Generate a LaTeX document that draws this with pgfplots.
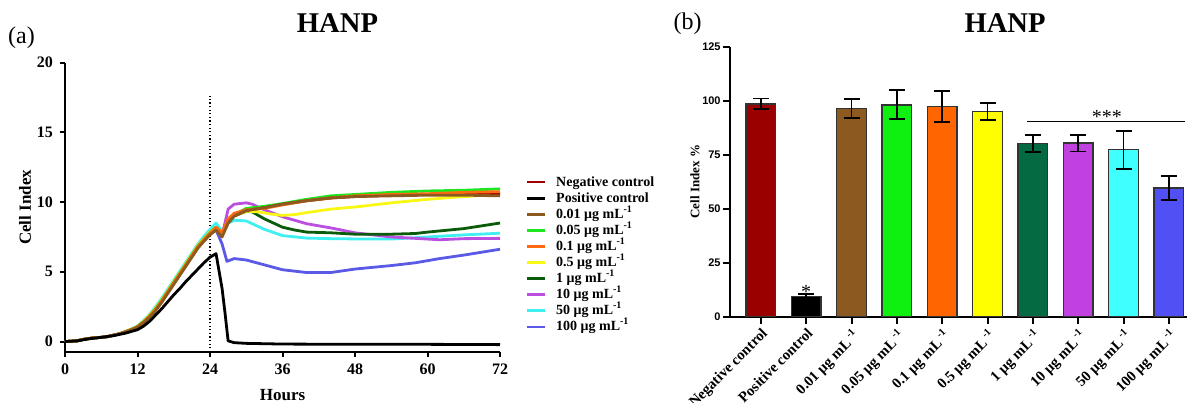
\documentclass[border=0pt]{standalone}
\usepackage{pgfplots}
\pgfplotsset{compat=1.18}
\usepackage{fontspec}
\setmainfont{Liberation Serif}
\newfontfamily\arial{Liberation Sans}

\definecolor{cneg}{HTML}{A00000}
\definecolor{cbrown}{HTML}{8C5A1E}
\definecolor{cgreen}{HTML}{1EE61E}
\definecolor{corange}{HTML}{FF6A10}
\definecolor{cyellow}{HTML}{F8F814}
\definecolor{cdgreen}{HTML}{0A5C0A}
\definecolor{cpurple}{HTML}{BA4FE0}
\definecolor{ccyan}{HTML}{40F0F0}
\definecolor{cblue}{HTML}{5A5AE6}
% bar colours
\definecolor{bneg}{HTML}{9B0000}
\definecolor{bbrown}{HTML}{8C5A20}
\definecolor{bgreen}{HTML}{10F010}
\definecolor{borange}{HTML}{FF6600}
\definecolor{byellow}{HTML}{FFFF00}
\definecolor{bdgreen}{HTML}{046A42}
\definecolor{bpurple}{HTML}{C040E0}
\definecolor{bcyan}{HTML}{40FFFF}
\definecolor{bblue}{HTML}{5050F5}
\definecolor{barline}{HTML}{333333}

\begin{document}
\begin{tikzpicture}
\useasboundingbox (0,0) rectangle (593.5pt,201pt);

\node[font=\bfseries\fontsize{14.3}{16}\selectfont, inner sep=0pt] at (168.75pt,189.5pt) {HANP};
\node[font=\bfseries\fontsize{14.3}{16}\selectfont, inner sep=0pt] at (502.5pt,189.5pt) {HANP};
\node[font=\fontsize{12}{14}\selectfont, inner sep=0pt] at (10.75pt,182.25pt) {(a)};
\node[font=\fontsize{12}{14}\selectfont, inner sep=0pt] at (343.75pt,189.25pt) {(b)};

% ---------------- panel (a)
\begin{axis}[
  at={(32.5pt,25pt)}, anchor=south west,
  scale only axis, width=217.5pt, height=144.65pt,
  xmin=0, xmax=72, ymin=-0.75, ymax=20,
  axis lines=left,
  x axis line style={-}, y axis line style={-},
  axis line style={line width=1pt},
  xtick={0,12,...,72}, ytick={0,5,...,20},
  tick align=outside, major tick length=2.5pt,
  tick style={line width=1pt, black},
  /pgf/number format/assume math mode=true,
  ticklabel style={font=\bfseries\fontsize{8}{9}\selectfont},
  xlabel={Hours}, ylabel={Cell Index},
  label style={font=\bfseries\fontsize{8.5}{9}\selectfont},
  xlabel style={at={(axis description cs:0.5,0)}, anchor=center, yshift=-21.5pt},
  ylabel style={at={(axis description cs:-0.092,0.5)}, anchor=center},
  clip=false,
  legend image code/.code={\draw[#1] (0pt,0pt) -- (9pt,0pt);},
  legend cell align=left,
  legend style={at={(axis description cs:1.0575,0.613)}, anchor=north west,
    draw=none, fill=none, inner sep=0pt,
    font=\bfseries\fontsize{7}{8}\selectfont,
    row sep=1.05pt, column sep=5pt,
    nodes={inner sep=0pt, text height=5.5pt, text depth=1.5pt}},
  every axis plot/.append style={line width=1.4pt, line join=round},
]
\addlegendimage{cneg, line width=1.4pt}\addlegendentry{Negative control}
\addlegendimage{black, line width=1.4pt}\addlegendentry{Positive control}
\addlegendimage{cbrown, line width=1.4pt}\addlegendentry{0.01 μg mL\textsuperscript{-1}}
\addlegendimage{cgreen, line width=1.4pt}\addlegendentry{0.05 μg mL\textsuperscript{-1}}
\addlegendimage{corange, line width=1.4pt}\addlegendentry{0.1 μg mL\textsuperscript{-1}}
\addlegendimage{cyellow, line width=1.4pt}\addlegendentry{0.5 μg mL\textsuperscript{-1}}
\addlegendimage{cdgreen, line width=1.4pt}\addlegendentry{1 μg mL\textsuperscript{-1}}
\addlegendimage{cpurple, line width=1.4pt}\addlegendentry{10 μg mL\textsuperscript{-1}}
\addlegendimage{ccyan, line width=1.4pt}\addlegendentry{50 μg mL\textsuperscript{-1}}
\addlegendimage{cblue, line width=1.4pt}\addlegendentry{100 μg mL\textsuperscript{-1}}

% dotted treatment line
\addplot[forget plot, black, line width=0.6pt, dash pattern=on 0.6pt off 1.2pt] coordinates {(24,-0.75) (24,17.6)};

% 100 ug
\addplot[forget plot, cblue] coordinates {(0,0) (1,0.02) (2,0.05) (3,0.15) (4,0.22) (5,0.27) (6,0.3) (7,0.35) (8,0.45) (9,0.55) (10,0.7) (11,0.85) (12,1.05) (13,1.4) (14,1.8) (15,2.3) (16,2.9) (17,3.55) (18,4.2) (19,4.85) (20,5.5) (21,6.15) (22,6.8) (23,7.3) (24,7.75) (25,8.0) (26,7.0) (26.8,5.75) (28,5.95) (30,5.85) (33,5.5) (36,5.15) (40,4.95) (44,4.95) (48,5.2) (54,5.45) (58,5.65) (62,5.95) (66,6.2) (72,6.62)};
% 50 ug
\addplot[forget plot, ccyan] coordinates {(0,0) (1,0.02) (2,0.05) (3,0.15) (4,0.22) (5,0.27) (6,0.3) (7,0.35) (8,0.45) (9,0.55) (10,0.72) (11,0.9) (12,1.12) (13,1.5) (14,1.95) (15,2.5) (16,3.1) (17,3.75) (18,4.4) (19,5.05) (20,5.7) (21,6.35) (22,7.0) (23,7.55) (24,8.05) (25,8.5) (26,7.9) (27,8.5) (28,8.7) (30,8.65) (33,8.05) (36,7.6) (40,7.42) (44,7.38) (48,7.36) (54,7.35) (60,7.5) (66,7.65) (72,7.77)};
% 10 ug
\addplot[forget plot, cpurple] coordinates {(0,0) (1,0.02) (2,0.05) (3,0.15) (4,0.22) (5,0.27) (6,0.3) (7,0.35) (8,0.45) (9,0.55) (10,0.7) (11,0.85) (12,1.05) (13,1.4) (14,1.8) (15,2.3) (16,2.9) (17,3.55) (18,4.2) (19,4.85) (20,5.5) (21,6.15) (22,6.8) (23,7.3) (24,7.75) (25,8.0) (26,7.6) (27,9.5) (28,9.85) (30,9.95) (31,9.85) (33,9.45) (36,8.95) (40,8.45) (44,8.15) (48,7.8) (54,7.5) (60,7.35) (62,7.3) (66,7.38) (72,7.4)};
% 1 ug
\addplot[forget plot, cdgreen] coordinates {(0,0) (1,0.02) (2,0.05) (3,0.15) (4,0.22) (5,0.27) (6,0.3) (7,0.35) (8,0.45) (9,0.55) (10,0.7) (11,0.85) (12,1.05) (13,1.4) (14,1.8) (15,2.3) (16,2.9) (17,3.55) (18,4.2) (19,4.85) (20,5.5) (21,6.15) (22,6.8) (23,7.3) (24,7.75) (25,8.0) (26,7.7) (27,8.5) (28,9.0) (30,9.35) (31,9.3) (33,8.8) (36,8.2) (38,8.0) (40,7.85) (44,7.8) (48,7.7) (54,7.7) (58,7.75) (60,7.85) (66,8.1) (72,8.5)};
% 0.5 ug
\addplot[forget plot, cyellow] coordinates {(0,0) (1,0.02) (2,0.05) (3,0.15) (4,0.22) (5,0.27) (6,0.3) (7,0.35) (8,0.45) (9,0.55) (10,0.72) (11,0.9) (12,1.1) (13,1.45) (14,1.9) (15,2.4) (16,3.0) (17,3.65) (18,4.3) (19,4.95) (20,5.6) (21,6.25) (22,6.9) (23,7.4) (24,7.85) (25,8.2) (26,7.7) (27,8.6) (28,9.0) (30,9.35) (32,9.3) (34,9.15) (36,9.05) (38,9.1) (40,9.25) (44,9.5) (48,9.65) (54,9.95) (60,10.2) (66,10.4) (72,10.55)};
% 0.05 ug
\addplot[forget plot, cgreen] coordinates {(0,0) (1,0.02) (2,0.05) (3,0.15) (4,0.22) (5,0.27) (6,0.3) (7,0.35) (8,0.45) (9,0.55) (10,0.7) (11,0.87) (12,1.08) (13,1.42) (14,1.85) (15,2.35) (16,2.95) (17,3.6) (18,4.25) (19,4.9) (20,5.55) (21,6.2) (22,6.85) (23,7.35) (24,7.8) (25,8.2) (26,7.8) (27,8.6) (28,9.1) (30,9.55) (33,9.7) (36,9.9) (40,10.2) (44,10.45) (48,10.55) (54,10.7) (60,10.8) (66,10.85) (72,10.95)};
% negative control
\addplot[forget plot, cneg] coordinates {(0,0) (1,0.02) (2,0.05) (3,0.15) (4,0.22) (5,0.27) (6,0.3) (7,0.35) (8,0.45) (9,0.55) (10,0.7) (11,0.85) (12,1.05) (13,1.38) (14,1.78) (15,2.27) (16,2.85) (17,3.5) (18,4.15) (19,4.8) (20,5.45) (21,6.1) (22,6.75) (23,7.25) (24,7.7) (25,8.1) (26,7.7) (27,8.6) (28,9.0) (30,9.4) (33,9.6) (36,9.85) (40,10.1) (44,10.3) (48,10.4) (54,10.5) (60,10.55) (66,10.6) (72,10.6)};
% 0.1 ug
\addplot[forget plot, corange] coordinates {(0,0) (1,0.02) (2,0.05) (3,0.15) (4,0.22) (5,0.27) (6,0.3) (7,0.35) (8,0.45) (9,0.55) (10,0.7) (11,0.86) (12,1.06) (13,1.4) (14,1.82) (15,2.32) (16,2.92) (17,3.57) (18,4.22) (19,4.87) (20,5.52) (21,6.17) (22,6.82) (23,7.32) (24,7.78) (25,8.2) (26,7.8) (27,8.8) (28,9.2) (30,9.45) (33,9.55) (36,9.8) (40,10.1) (44,10.3) (48,10.45) (54,10.55) (60,10.6) (66,10.7) (72,10.75)};
% 0.01 ug
\addplot[forget plot, cbrown] coordinates {(0,0) (1,0.02) (2,0.05) (3,0.15) (4,0.22) (5,0.27) (6,0.3) (7,0.35) (8,0.45) (9,0.55) (10,0.68) (11,0.83) (12,1.02) (13,1.35) (14,1.74) (15,2.22) (16,2.8) (17,3.45) (18,4.1) (19,4.75) (20,5.4) (21,6.05) (22,6.7) (23,7.2) (24,7.65) (25,8.0) (26,7.5) (27,8.5) (28,9.0) (30,9.4) (33,9.6) (36,9.85) (40,10.1) (44,10.3) (48,10.4) (54,10.45) (60,10.5) (66,10.5) (72,10.45)};
% positive control
\addplot[forget plot, black] coordinates {(0,0) (2,0.05) (4,0.2) (6,0.3) (8,0.42) (10,0.6) (12,0.85) (13,1.1) (14,1.45) (15,1.9) (16,2.35) (17,2.85) (18,3.35) (19,3.8) (20,4.3) (21,4.75) (22,5.2) (23,5.65) (24,6.05) (25,6.3) (26,3.8) (26.5,2.0) (27,0.05) (28,-0.08) (30,-0.13) (36,-0.18) (48,-0.2) (60,-0.2) (72,-0.22)};
\end{axis}

% ---------------- panel (b)
\begin{axis}[
  at={(365pt,42.65pt)}, anchor=south west,
  scale only axis, width=228.5pt, height=135pt,
  xmin=-0.68, xmax=9.4, ymin=0, ymax=125,
  axis lines=left,
  x axis line style={-}, y axis line style={-},
  axis line style={line width=1pt},
  xtick={0,...,9}, ytick={0,25,...,125},
  tick align=outside, major tick length=3.5pt,
  tick style={line width=1pt, black},
  /pgf/number format/assume math mode=true,
  yticklabel style={font=\arial\bfseries\fontsize{5.5}{6}\selectfont, inner sep=1pt},
  xticklabels={Negative control, Positive control,
    0.01 μg mL\,\textsuperscript{-1}, 0.05 μg mL\,\textsuperscript{-1},
    0.1 μg mL\,\textsuperscript{-1}, 0.5 μg mL\,\textsuperscript{-1},
    1 μg mL\,\textsuperscript{-1}, 10 μg mL\,\textsuperscript{-1},
    50 μg mL\,\textsuperscript{-1}, 100 μg mL\,\textsuperscript{-1}},
  xticklabel style={rotate=45, anchor=north east, inner sep=1pt, font=\bfseries\fontsize{7.4}{8}\selectfont},
  ylabel={Cell Index \%},
  ylabel style={font=\bfseries\fontsize{6.5}{7}\selectfont, at={(axis description cs:-0.0766,0.5)}, anchor=center},
  clip=false,
  error bars/error bar style={line width=0.9pt, black},
  error bars/error mark options={rotate=90, mark size=4pt, line width=0.9pt, black},
]
\addplot[ybar, bar width=0.655, bar shift=0pt, fill=bneg, draw=barline, line width=0.75pt, error bars/.cd, y dir=both, y explicit] coordinates {(0,98.5) +- (0,2.5)};
\addplot[ybar, bar width=0.655, bar shift=0pt, fill=black, draw=barline, line width=0.75pt, error bars/.cd, y dir=both, y explicit] coordinates {(1,9.3) +- (0,1.3)};
\addplot[ybar, bar width=0.655, bar shift=0pt, fill=bbrown, draw=barline, line width=0.75pt, error bars/.cd, y dir=both, y explicit] coordinates {(2,96.3) +- (0,4.4)};
\addplot[ybar, bar width=0.655, bar shift=0pt, fill=bgreen, draw=barline, line width=0.75pt, error bars/.cd, y dir=both, y explicit] coordinates {(3,98.1) +- (0,6.7)};
\addplot[ybar, bar width=0.655, bar shift=0pt, fill=borange, draw=barline, line width=0.75pt, error bars/.cd, y dir=both, y explicit] coordinates {(4,97.4) +- (0,7.1)};
\addplot[ybar, bar width=0.655, bar shift=0pt, fill=byellow, draw=barline, line width=0.75pt, error bars/.cd, y dir=both, y explicit] coordinates {(5,94.9) +- (0,4.0)};
\addplot[ybar, bar width=0.655, bar shift=0pt, fill=bdgreen, draw=barline, line width=0.75pt, error bars/.cd, y dir=both, y explicit] coordinates {(6,80.2) +- (0,3.9)};
\addplot[ybar, bar width=0.655, bar shift=0pt, fill=bpurple, draw=barline, line width=0.75pt, error bars/.cd, y dir=both, y explicit] coordinates {(7,80.4) +- (0,3.9)};
\addplot[ybar, bar width=0.655, bar shift=0pt, fill=bcyan, draw=barline, line width=0.75pt, error bars/.cd, y dir=both, y explicit] coordinates {(8,77.3) +- (0,8.8)};
\addplot[ybar, bar width=0.655, bar shift=0pt, fill=bblue, draw=barline, line width=0.75pt, error bars/.cd, y dir=both, y explicit] coordinates {(9,59.6) +- (0,5.5)};
% significance line
\addplot[black, line width=0.5pt, no marks] coordinates {(5.87,90.6) (9.36,90.6)};
\node[font=\fontsize{10}{12}\selectfont, inner sep=0pt, anchor=base] at (axis cs:7.63,90.6) [yshift=-1.2pt] {***};
\node[font=\fontsize{10}{12}\selectfont, inner sep=0pt, anchor=base] at (axis cs:1,10.6) [yshift=-2.3pt] {*};
\end{axis}
\end{tikzpicture}
\end{document}
